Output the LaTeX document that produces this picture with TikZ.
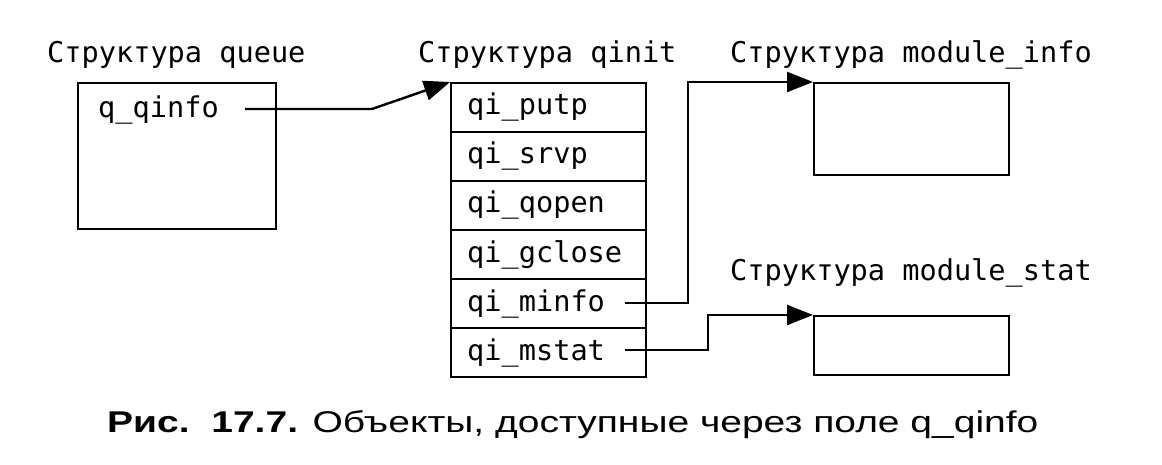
\documentclass[tikz,border=0pt]{standalone}
\usepackage{fontspec}
\setmainfont{Liberation Sans}
\newfontfamily\monof{DejaVu Sans Mono}
\newfontfamily\capf[FakeStretch=1.3]{Liberation Sans}
\usetikzlibrary{arrows.meta}
\begin{document}
\begin{tikzpicture}[x=1pt,y=-1pt,
  box/.style={draw,line width=2.4pt,inner sep=0pt,anchor=north west},
  lbl/.style={inner sep=0pt,anchor=base west,font=\monof\fontsize{28.6}{30}\selectfont},
  conn/.style={line width=2.4pt,-{Triangle[length=26pt,width=20pt]}}]
\useasboundingbox (0,0) rectangle (1162,465);
% queue
\node[lbl] (tq) at (47,63) {Структура queue};
\node[box,minimum width=198pt,minimum height=146pt] (queue) at (77,82) {};
\node[lbl] (qq) at (98,118) {q\_qinfo};
\coordinate (qqs) at (245,109);
% qinit
\node[lbl] (tqi) at (418,63) {Структура qinit};
\foreach \i/\t in {1/putp,2/srvp,3/qopen,4/gclose,5/minfo,6/mstat}{
  \node[box,minimum width=195pt,minimum height=49pt] (r\i) at (450,{82+49*(\i-1)}) {};
  \node[lbl] (t\i) at (467,{115+49*(\i-1)}) {qi\_\t};
}
\coordinate (mis) at (625,303);
\coordinate (mss) at (625,350);
% module_info
\node[lbl] (tmi) at (730,63) {Структура module\_info};
\node[box,minimum width=195pt,minimum height=92pt] (mi) at (813,82) {};
% module_stat
\node[lbl] (tms) at (730,280) {Структура module\_stat};
\node[box,minimum width=195pt,minimum height=59pt] (ms) at (813,315) {};
% connectors
\draw[conn] (qqs) -- (372,109) -- (r1.north west);
\draw[conn] (mis) -- (688,303) |- (mi.north west);
\draw[conn] (mss) -- (708,350) |- (ms.north west);
% caption
\node[inner sep=0pt,anchor=base west,font=\capf\fontsize{30}{32}\selectfont] (cap) at (107,432) {\textbf{Рис.\ \ 17.7.} Объекты, доступные через поле q\_qinfo};
\end{tikzpicture}
\end{document}
